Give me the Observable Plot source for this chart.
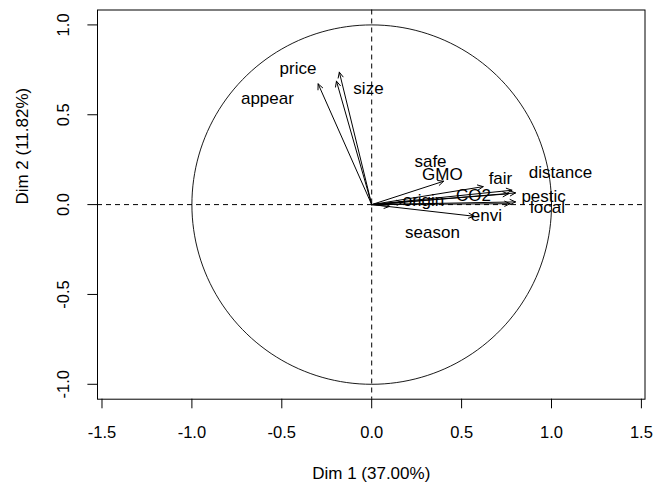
<!DOCTYPE html>
<html>
<head>
<meta charset="utf-8">
<script src="https://cdn.jsdelivr.net/npm/d3@7"></script>
<script src="https://cdn.jsdelivr.net/npm/@observablehq/plot@0.6"></script>
<style>
body { margin: 0; background: #fff; }
</style>
</head>
<body>
<div id="chart"></div>
<script>
// Variable names and their coordinates on Dim 1 / Dim 2
const variables = ["price", "size", "appear", "safe", "GMO", "fair", "distance", "CO2", "pestic", "local", "origin", "envi", "season"];
const dim1 = [-0.180, -0.196, -0.298, 0.40, 0.62, 0.78, 0.80, 0.76, 0.80, 0.77, 0.17, 0.57, 0.10];
const dim2 = [0.737, 0.687, 0.672, 0.13, 0.10, 0.08, 0.065, 0.06, 0.015, 0.005, 0.012, -0.065, -0.01];
// Label anchor positions (data units), as placed in the reference
const labelX = [-0.41, -0.018, -0.58, 0.327, 0.393, 0.716, 1.05, 0.566, 0.956, 0.978, 0.288, 0.638, 0.338];
const labelY = [0.757, 0.646, 0.59, 0.240, 0.167, 0.145, 0.179, 0.051, 0.045, -0.016, 0.023, -0.061, -0.155];

const xTicks = [-1.5, -1.0, -0.5, 0.0, 0.5, 1.0, 1.5];
const yTicks = [-1.0, -0.5, 0.0, 0.5, 1.0];
const xTitle = "Dim 1 (37.00%)";
const yTitle = "Dim 2 (11.82%)";

const vars = variables.map((name, i) => ({name, x: dim1[i], y: dim2[i], lx: labelX[i], ly: labelY[i]}));
const circle = d3.range(0, 361, 2).map(a => ({x: Math.cos(a * Math.PI / 180), y: Math.sin(a * Math.PI / 180)}));

const font = "Liberation Sans, Arial, sans-serif";

const chart = Plot.plot({
  width: 658,
  height: 489,
  marginLeft: 97,
  marginRight: 13.5,
  marginTop: 9.5,
  marginBottom: 90.3,
  style: {fontFamily: font, fontSize: "16px", color: "black", background: "white"},
  x: {domain: [-1.525, 1.52]},
  y: {domain: [-1.083, 1.083]},
  marks: [
    Plot.ruleX([0], {stroke: "black", strokeDasharray: "5,4", strokeWidth: 1}),
    Plot.ruleY([0], {stroke: "black", strokeDasharray: "5,4", strokeWidth: 1}),
    Plot.line(circle, {x: "x", y: "y", stroke: "black", strokeWidth: 0.9}),
    Plot.arrow(vars, {x1: () => 0, y1: () => 0, x2: "x", y2: "y", stroke: "black", strokeWidth: 1, headLength: 9, headAngle: 50}),
    Plot.text(vars, {x: "lx", y: "ly", text: "name", fill: "black", fontSize: 17}),
    Plot.frame({stroke: "black"}),
    Plot.axisX(xTicks, {tickSize: 9.6, tickPadding: 17, tickFormat: d => d.toFixed(1), label: null, fontSize: 16.5}),
    Plot.axisY(yTicks, {tickSize: 9.6, tickPadding: 19, tickRotate: -90, tickFormat: d => d.toFixed(1), label: null, fontSize: 16.5}),
    Plot.text([xTitle], {frameAnchor: "bottom", dy: 79.5, text: d => d, fontSize: 17, fill: "black"}),
    Plot.text([yTitle], {frameAnchor: "left", dx: -75, rotate: -90, text: d => d, fontSize: 17, fill: "black"})
  ]
});
document.getElementById("chart").appendChild(chart);
</script>
</body>
</html>
